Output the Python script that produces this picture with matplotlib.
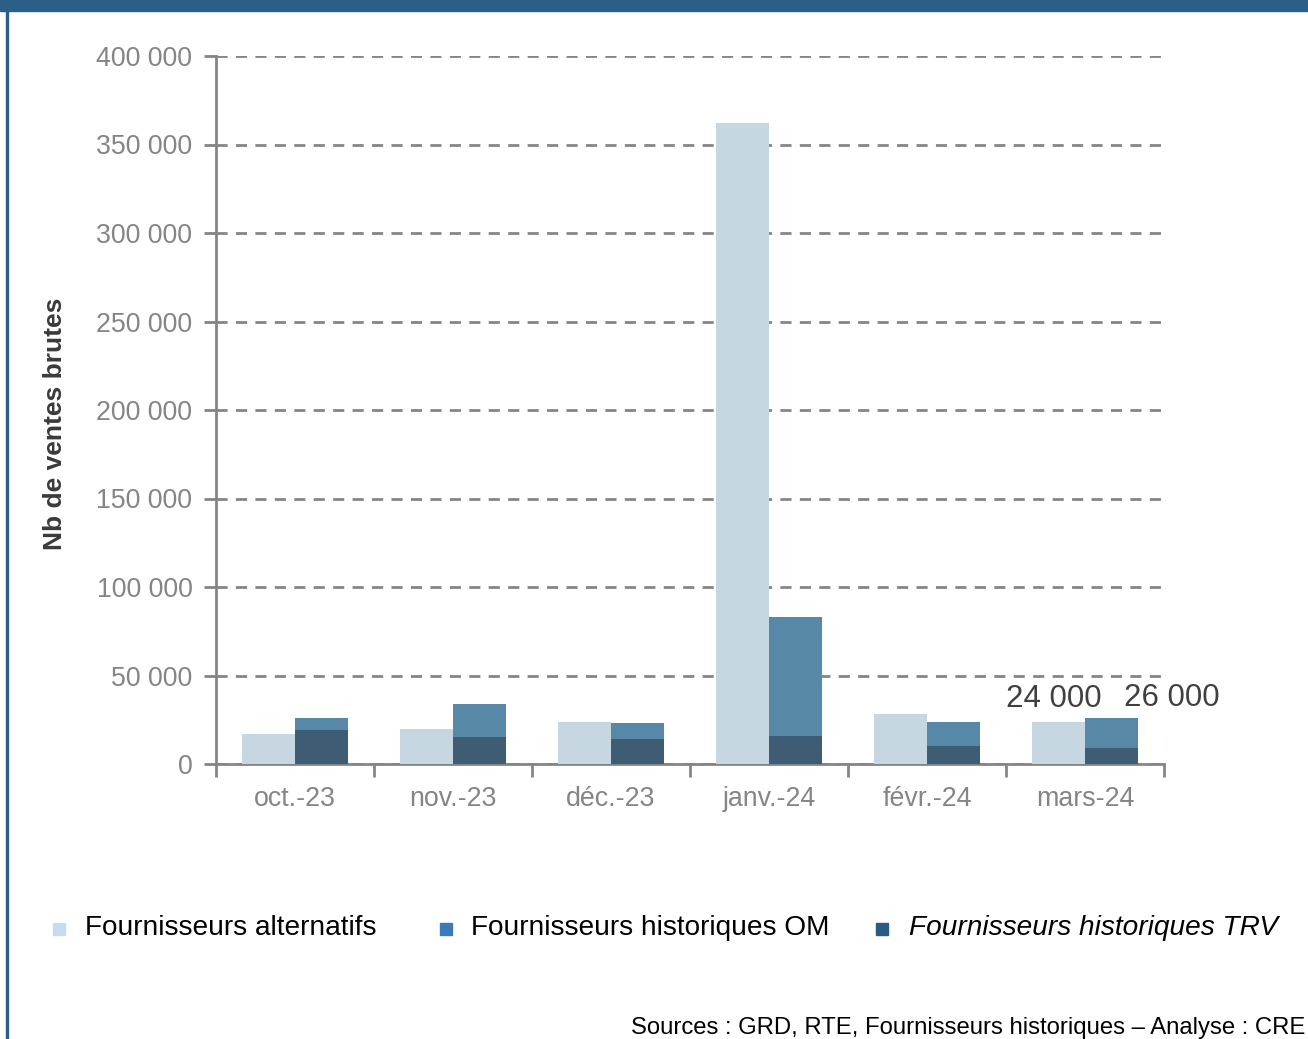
import numpy as np
import matplotlib.pyplot as plt
from matplotlib.patches import Rectangle

plt.rcParams['font.family'] = ['Liberation Sans', 'DejaVu Sans']

# Data
months = ['oct.-23', 'nov.-23', 'déc.-23', 'janv.-24', 'févr.-24', 'mars-24']
alternatifs = [17000, 20000, 24000, 362000, 28000, 24000]
historiques_trv = [19000, 15000, 14000, 16000, 10000, 9000]
historiques_om = [7000, 19000, 9000, 67000, 14000, 17000]
yticks = [0, 50000, 100000, 150000, 200000, 250000, 300000, 350000, 400000]
annot_idx = 5
annot_alt = '24 000'
annot_hist = '26 000'

c_alt = '#c6d7e2'
c_om = '#5788a8'
c_trv = '#3e5d74'
grey = '#858585'

fig = plt.figure(figsize=(13.08, 10.39), dpi=100)
ax = fig.add_axes([216 / 1308, 1 - 764 / 1039, (1164 - 216) / 1308, (764 - 56) / 1039])

x = np.arange(len(months))
w = 0.335
ax.bar(x - w / 2, alternatifs, w, color=c_alt, zorder=3)
ax.bar(x + w / 2, historiques_trv, w, color=c_trv, zorder=3)
ax.bar(x + w / 2, historiques_om, w, bottom=historiques_trv, color=c_om, zorder=3)

# Value labels on the last month
hist_total = np.array(historiques_trv) + np.array(historiques_om)
ax.text(x[annot_idx] - w / 2 - 0.03, alternatifs[annot_idx] + 4500, annot_alt,
        ha='center', va='bottom', fontsize=22.5, color='#404040')
ax.text(x[annot_idx] + w / 2 + 0.38, hist_total[annot_idx] + 3000, annot_hist,
        ha='center', va='bottom', fontsize=22.5, color='#404040')

ax.set_xlim(-0.5, len(months) - 0.5)
ax.set_ylim(0, 400000)
ax.set_yticks(yticks)
ax.set_yticklabels([f'{v:,}'.replace(',', ' ') for v in yticks])
ax.set_xticks(x)
ax.set_xticklabels(months)
ax.set_xticks(np.arange(-0.5, len(months)), minor=True)
ax.tick_params(axis='x', which='major', length=0, pad=16, labelsize=19.3, labelcolor=grey)
ax.tick_params(axis='x', which='minor', length=9, width=2, color=grey, direction='out')
ax.tick_params(axis='y', length=9, width=2, color=grey, pad=8, labelsize=19.3, labelcolor=grey)

ax.grid(axis='y', color=grey, linestyle=(0, (4, 3)), linewidth=2, zorder=0)
for side in ['top', 'right']:
    ax.spines[side].set_visible(False)
for side in ['left', 'bottom']:
    ax.spines[side].set_color(grey)
    ax.spines[side].set_linewidth(2)

fig.text(55 / 1308, 1 - 424 / 1039, 'Nb de ventes brutes', rotation=90, ha='center', va='center',
         fontsize=19, fontweight='bold', color='#3a3a3a')

# Legend
leg_items = [('Fournisseurs alternatifs', '#c5dcee', 59, 85, 'normal'),
             ('Fournisseurs historiques OM', '#3a7ab5', 446, 471, 'normal'),
             ('Fournisseurs historiques TRV', '#2b5a85', 882, 909, 'italic')]
for label, col, mx, tx, style in leg_items:
    fig.add_artist(Rectangle((mx / 1308 - 6 / 1308, 1 - 935 / 1039), 12 / 1308, 12 / 1039,
                             transform=fig.transFigure, color=col))
    fig.text(tx / 1308, 1 - 928 / 1039, label, ha='left', va='center', fontsize=20.2,
             color='black', style=style)

fig.text(1305 / 1308, 1 - 1028 / 1039, 'Sources : GRD, RTE, Fournisseurs historiques – Analyse : CRE',
         ha='right', va='center', fontsize=17.2, color='black')

# Frame
frame_col = '#2b5f87'
fig.add_artist(Rectangle((0, 1 - 11 / 1039), 1, 11 / 1039, transform=fig.transFigure, color=frame_col))
fig.add_artist(Rectangle((6 / 1308, 0), 2 / 1308, 1, transform=fig.transFigure, color=frame_col))

fig.savefig('out.png', dpi=100)
